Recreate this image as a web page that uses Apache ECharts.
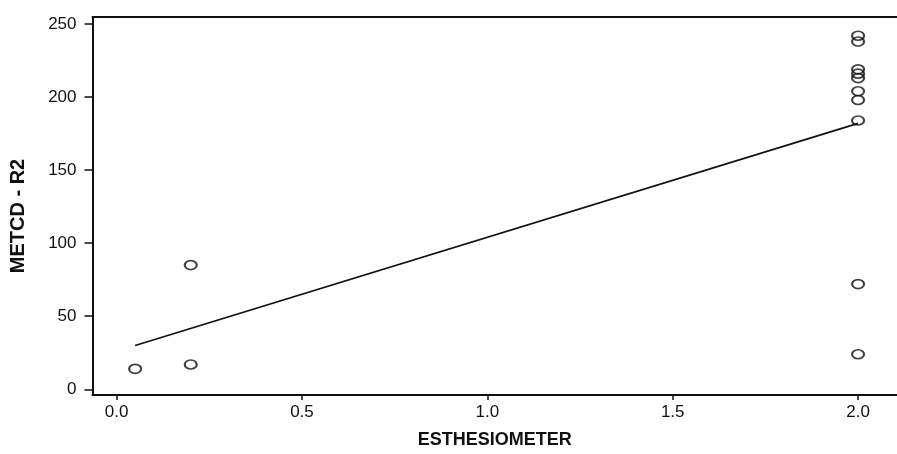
<!DOCTYPE html>
<html>
<head>
<meta charset="utf-8">
<script src="https://cdn.jsdelivr.net/npm/echarts@6/dist/echarts.min.js"></script>
<style>
html,body{margin:0;padding:0;background:#fff;}
#chart{width:897px;height:454px;}
</style>
</head>
<body>
<div id="chart"></div>
<script>
// Data
const pointsX = [0.05, 0.2, 0.2, 2.0, 2.0, 2.0, 2.0, 2.0, 2.0, 2.0, 2.0, 2.0, 2.0];
const pointsY = [14, 17, 85, 242, 238, 219, 216, 213, 204, 198, 184, 72, 24];
const fitX = [0.05, 2.0];
const fitY = [30, 182];
const xTicks = [0, 0.5, 1.0, 1.5, 2.0];
const yTicks = [0, 50, 100, 150, 200, 250];
const xTitle = 'ESTHESIOMETER';
const yTitle = 'METCD - R2';

const chart = echarts.init(document.getElementById('chart'), null, {renderer: 'canvas'});
const labelFont = {color: '#111', fontSize: 17, fontFamily: 'Liberation Sans, Arial, sans-serif'};
const option = {
  backgroundColor: '#fff',
  animation: false,
  grid: {left: 92.5, right: 0, top: 17, bottom: 58.3, show: false},
  xAxis: [{
    type: 'value', min: -0.065, max: 2.105, position: 'bottom',
    name: xTitle, nameLocation: 'middle', nameGap: 36,
    nameTextStyle: {fontSize: 18, fontWeight: 'bold', color: '#111', fontFamily: 'Liberation Sans, Arial, sans-serif'},
    axisLine: {show: true, onZero: false, lineStyle: {color: '#111', width: 2}},
    axisTick: {show: true, length: 5, customValues: xTicks, lineStyle: {color: '#111', width: 1.5}},
    axisLabel: {show: true, margin: 9, customValues: xTicks, formatter: v => v.toFixed(1), ...labelFont},
    splitLine: {show: false}
  }, {
    type: 'value', min: -0.065, max: 2.105, position: 'top',
    axisLine: {show: true, onZero: false, lineStyle: {color: '#111', width: 2}},
    axisTick: {show: false}, axisLabel: {show: false}, splitLine: {show: false}
  }],
  yAxis: {
    type: 'value', min: -3.9, max: 254.8,
    name: yTitle, nameLocation: 'middle', nameGap: 64, nameRotate: 90,
    nameTextStyle: {fontSize: 20, fontWeight: 'bold', color: '#111', fontFamily: 'Liberation Sans, Arial, sans-serif', padding: [0, 20, 0, 0]},
    axisLine: {show: true, onZero: false, lineStyle: {color: '#111', width: 2}},
    axisTick: {show: true, length: 8, customValues: yTicks, lineStyle: {color: '#111', width: 1.5}},
    axisLabel: {show: true, margin: 16, customValues: yTicks, ...labelFont},
    splitLine: {show: false}
  },
  series: [{
    type: 'line',
    data: fitX.map((x, i) => [x, fitY[i]]),
    symbol: 'none',
    lineStyle: {color: '#111', width: 1.7},
    z: 2
  }, {
    type: 'scatter',
    data: pointsX.map((x, i) => [x, pointsY[i]]),
    symbol: 'circle',
    symbolSize: [12, 9],
    itemStyle: {color: 'rgba(255,255,255,0)', borderColor: '#111', borderWidth: 1.9},
    z: 3
  }]
};
chart.setOption(option);
</script>
</body>
</html>
